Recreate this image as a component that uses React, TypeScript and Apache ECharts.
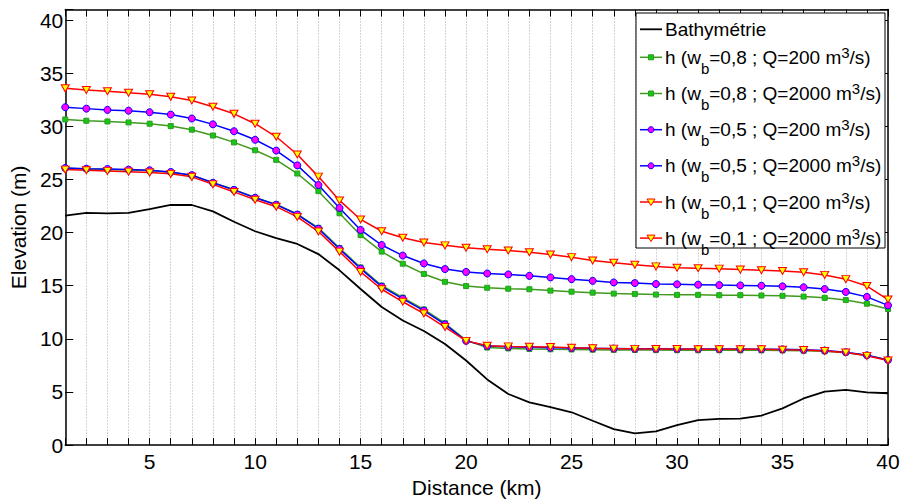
import React, { useEffect, useRef } from "react";
import * as echarts from "echarts";

const distanceKm = [
  1, 2, 3, 4, 5, 6, 7, 8, 9, 10, 11, 12, 13, 14, 15, 16, 17, 18, 19, 20,
  21, 22, 23, 24, 25, 26, 27, 28, 29, 30, 31, 32, 33, 34, 35, 36, 37, 38, 39, 40,
];

const bathymetrie = [
  21.6, 21.85, 21.82, 21.85, 22.22, 22.6, 22.6, 22.0, 21.02, 20.13,
  19.48, 18.93, 17.98, 16.45, 14.69, 13.0, 11.73, 10.74, 9.51, 7.96,
  6.18, 4.81, 4.02, 3.58, 3.09, 2.29, 1.5, 1.11, 1.3, 1.89,
  2.35, 2.47, 2.5, 2.78, 3.46, 4.39, 5.03, 5.19, 4.97, 4.88,
];

const hWb08Q200 = [
  26.05, 25.98, 25.95, 25.9, 25.84, 25.69, 25.4, 24.7, 24.05, 23.3,
  22.66, 21.75, 20.45, 18.55, 16.72, 15.02, 13.88, 12.77, 11.47, 9.86,
  9.18, 9.1, 9.05, 9.02, 9.0, 8.98, 8.96, 8.95, 8.94, 8.93,
  8.93, 8.93, 8.92, 8.92, 8.91, 8.88, 8.83, 8.7, 8.45, 8.0,
];

const hWb08Q2000 = [
  30.65, 30.53, 30.46, 30.37, 30.25, 30.03, 29.69, 29.14, 28.49, 27.75,
  26.85, 25.56, 23.9, 21.82, 19.76, 18.21, 17.07, 16.11, 15.37, 14.97,
  14.81, 14.72, 14.67, 14.54, 14.44, 14.35, 14.26, 14.23, 14.17, 14.14,
  14.14, 14.11, 14.11, 14.08, 14.05, 13.98, 13.86, 13.65, 13.31, 12.81,
];

const hWb05Q200 = [
  26.08, 26.02, 25.99, 25.93, 25.87, 25.71, 25.41, 24.69, 24.02, 23.28,
  22.63, 21.7, 20.37, 18.46, 16.61, 14.91, 13.77, 12.66, 11.36, 9.81,
  9.33, 9.25, 9.2, 9.17, 9.14, 9.11, 9.09, 9.07, 9.06, 9.05,
  9.05, 9.04, 9.04, 9.03, 9.01, 8.97, 8.9, 8.75, 8.45, 8.02,
];

const hWb05Q2000 = [
  31.8, 31.67, 31.55, 31.48, 31.33, 31.11, 30.74, 30.19, 29.54, 28.74,
  27.72, 26.33, 24.48, 22.32, 20.25, 18.83, 17.84, 17.1, 16.57, 16.3,
  16.15, 16.06, 15.93, 15.78, 15.62, 15.46, 15.31, 15.25, 15.16, 15.13,
  15.1, 15.06, 15.03, 15.0, 14.94, 14.85, 14.69, 14.42, 13.95, 13.15,
];

const hWb01Q200 = [
  25.93, 25.87, 25.81, 25.74, 25.65, 25.53, 25.25, 24.54, 23.83, 23.09,
  22.44, 21.48, 20.1, 18.21, 16.3, 14.67, 13.49, 12.38, 11.11, 9.81,
  9.35, 9.29, 9.26, 9.23, 9.17, 9.12, 9.08, 9.06, 9.05, 9.04,
  9.02, 9.02, 9.02, 9.02, 8.98, 8.95, 8.86, 8.71, 8.4, 7.96,
];

const hWb01Q2000 = [
  33.58, 33.42, 33.3, 33.17, 33.03, 32.78, 32.43, 31.85, 31.18, 30.25,
  29.02, 27.35, 25.27, 23.03, 21.24, 20.13, 19.51, 19.07, 18.8, 18.58,
  18.43, 18.31, 18.15, 17.94, 17.69, 17.38, 17.16, 16.98, 16.82, 16.7,
  16.64, 16.61, 16.52, 16.45, 16.39, 16.27, 16.02, 15.62, 14.97, 13.7,
];

const xTickLabels = [5, 10, 15, 20, 25, 30, 35, 40];
const yTickLabels = [0, 5, 10, 15, 20, 25, 30, 35, 40];

const seriesNames = [
  "Bathymétrie",
  "h (wb=0,8 ; Q=200 m3/s)",
  "h (wb=0,8 ; Q=2000 m3/s)",
  "h (wb=0,5 ; Q=200 m3/s)",
  "h (wb=0,5 ; Q=2000 m3/s)",
  "h (wb=0,1 ; Q=200 m3/s)",
  "h (wb=0,1 ; Q=2000 m3/s)",
];
const legendWb = ["", "0,8", "0,8", "0,5", "0,5", "0,1", "0,1"];
const legendQ = ["", "200", "2000", "200", "2000", "200", "2000"];

const FONT = "'Liberation Sans', Arial, Helvetica, sans-serif";
const TRI_DOWN = "path://M0,0L10,0L5,8.7Z";

const GREEN_LINE = "#3f9a1e";
const GREEN_FILL = "#14c814";
const GREEN_EDGE = "#2f9a22";

type Style = { line: string; marker: string; fill: string; edge: string };
const styles: Style[] = [
  { line: "#000000", marker: "none", fill: "#000", edge: "#000" },
  { line: GREEN_LINE, marker: "rect", fill: GREEN_FILL, edge: GREEN_EDGE },
  { line: GREEN_LINE, marker: "rect", fill: GREEN_FILL, edge: GREEN_EDGE },
  { line: "#0000ff", marker: "circle", fill: "#ff00ff", edge: "#0000ff" },
  { line: "#0000ff", marker: "circle", fill: "#ff00ff", edge: "#0000ff" },
  { line: "#ff0000", marker: "tri", fill: "#ffff00", edge: "#ff0000" },
  { line: "#ff0000", marker: "tri", fill: "#ffff00", edge: "#ff0000" },
];

export default function App() {
  const ref = useRef<HTMLDivElement>(null);

  useEffect(() => {
    if (!ref.current) return;
    document.body.style.margin = "0";
    const chart = echarts.init(ref.current, null, {
      renderer: "svg",
      width: 903,
      height: 503,
    });

    const toData = (arr: number[]) => distanceKm.map((x, i) => [x, arr[i]]);
    const allValues = [
      bathymetrie,
      hWb08Q200,
      hWb08Q2000,
      hWb05Q200,
      hWb05Q2000,
      hWb01Q200,
      hWb01Q2000,
    ];

    const series: any[] = allValues.map((arr, i) => {
      const st = styles[i];
      const symbol =
        st.marker === "none" ? "none" : st.marker === "tri" ? TRI_DOWN : st.marker;
      const size = st.marker === "rect" ? 5 : st.marker === "circle" ? 7 : [8, 7];
      return {
        type: "line",
        name: seriesNames[i],
        data: toData(arr),
        symbol,
        symbolSize: size,
        showSymbol: st.marker !== "none",
        lineStyle: { color: st.line, width: i === 0 ? 1.8 : 1.5 },
        itemStyle: { color: st.fill, borderColor: st.edge, borderWidth: 1 },
        emphasis: { disabled: true },
      };
    });

    // Legend drawn as graphic elements (box, sample lines, markers, rich text)
    const rowY = [29.3, 57.3, 93.5, 129.7, 165.8, 202, 238.1];
    const iconX1 = 640;
    const iconX2 = 662;
    const iconCx = 651;
    const textX = 665;
    const legendEls: any[] = [
      {
        type: "rect",
        z: 100,
        shape: { x: 636, y: 13, width: 249, height: 235 },
        style: { fill: "#ffffff", stroke: "#000000", lineWidth: 1 },
        silent: true,
      },
    ];
    const rich = {
      n: { fontSize: 19, lineHeight: 24, fontFamily: FONT, fill: "#000" },
      m: { fontSize: 19, lineHeight: 24, fontFamily: FONT, fill: "#000" },
      s: { fontSize: 15, lineHeight: 24, fontFamily: FONT, fill: "#000", padding: [22, 0, 0, 0] },
      p: { fontSize: 15, lineHeight: 24, fontFamily: FONT, fill: "#000", padding: [0, 0, 10, 0] },
    };
    styles.forEach((st, i) => {
      const y = rowY[i];
      legendEls.push({
        type: "line",
        z: 101,
        silent: true,
        shape: { x1: iconX1, y1: y, x2: iconX2, y2: y },
        style: { stroke: st.line, lineWidth: i === 0 ? 1.8 : 1.5 },
      });
      if (st.marker === "rect") {
        legendEls.push({
          type: "rect",
          z: 102,
          silent: true,
          shape: { x: iconCx - 2.5, y: y - 2.5, width: 5, height: 5 },
          style: { fill: st.fill, stroke: st.edge, lineWidth: 1 },
        });
      } else if (st.marker === "circle") {
        legendEls.push({
          type: "circle",
          z: 102,
          silent: true,
          shape: { cx: iconCx, cy: y, r: 3 },
          style: { fill: st.fill, stroke: st.edge, lineWidth: 1 },
        });
      } else if (st.marker === "tri") {
        legendEls.push({
          type: "polygon",
          z: 102,
          silent: true,
          shape: {
            points: [
              [iconCx - 4, y - 3],
              [iconCx + 4, y - 3],
              [iconCx, y + 3.5],
            ],
          },
          style: { fill: st.fill, stroke: st.edge, lineWidth: 1 },
        });
      }
      const text =
        i === 0
          ? "{n|" + seriesNames[0] + "}"
          : "{m|h (w}{s|b}{m|=" + legendWb[i] + " ; Q=" + legendQ[i] + " m}{p|3}{m|/s)}";
      legendEls.push({
        type: "text",
        z: 103,
        silent: true,
        x: textX,
        y,
        style: {
          text,
          rich,
          fontFamily: FONT,
          fontSize: 19,
          fill: "#000",
          align: "left",
          verticalAlign: "middle",
        },
      });
    });

    const axisLineStyle = { color: "#000000", width: 1.5 };

    chart.setOption({
      animation: false,
      backgroundColor: "#ffffff",
      textStyle: { fontFamily: FONT },
      grid: { left: 63.5, right: 15, top: 9.5, bottom: 50.3, containLabel: false },
      xAxis: [
        {
          type: "value",
          min: 1,
          max: 40,
          interval: 1,
          name: "Distance (km)",
          nameLocation: "middle",
          nameGap: 23,
          nameTextStyle: { fontSize: 21, color: "#000", fontFamily: FONT },
          axisLine: { show: true, onZero: false, lineStyle: axisLineStyle },
          axisTick: { show: true, inside: true, length: 7, lineStyle: { color: "#000", width: 1 } },
          axisLabel: {
            fontSize: 21,
            color: "#000",
            fontFamily: FONT,
            margin: 6,
            formatter: (v: number) => (xTickLabels.includes(v) ? String(v) : ""),
          },
          splitLine: {
            show: true,
            lineStyle: { color: "#a8a8a8", type: [1, 2], width: 1 },
          },
        },
        {
          type: "value",
          position: "top",
          min: 1,
          max: 40,
          interval: 1,
          axisLine: { show: true, onZero: false, lineStyle: axisLineStyle },
          axisTick: { show: true, inside: true, length: 7, lineStyle: { color: "#000", width: 1 } },
          axisLabel: { show: false },
          splitLine: { show: false },
        },
      ],
      yAxis: [
        {
          type: "value",
          min: 0,
          max: 41,
          interval: 5,
          name: "Elevation (m)",
          nameLocation: "middle",
          nameGap: 31,
          nameTextStyle: { fontSize: 21, color: "#000", fontFamily: FONT },
          axisLine: { show: true, onZero: false, lineStyle: axisLineStyle },
          axisTick: { show: true, inside: true, length: 8, lineStyle: { color: "#000", width: 1 } },
          axisLabel: {
            fontSize: 21,
            color: "#000",
            fontFamily: FONT,
            margin: 2,
            formatter: (v: number) => (yTickLabels.includes(v) ? String(v) : ""),
          },
          splitLine: { show: false },
        },
        {
          type: "value",
          position: "right",
          min: 0,
          max: 41,
          interval: 5,
          axisLine: { show: true, onZero: false, lineStyle: axisLineStyle },
          axisTick: { show: true, inside: true, length: 8, lineStyle: { color: "#000", width: 1 } },
          axisLabel: { show: false },
          splitLine: { show: false },
        },
      ],
      graphic: legendEls,
      series,
    });

    return () => {
      chart.dispose();
    };
  }, []);

  return (
    <div
      ref={ref}
      style={{ position: "absolute", left: 0, top: 0, width: 903, height: 503 }}
    />
  );
}
